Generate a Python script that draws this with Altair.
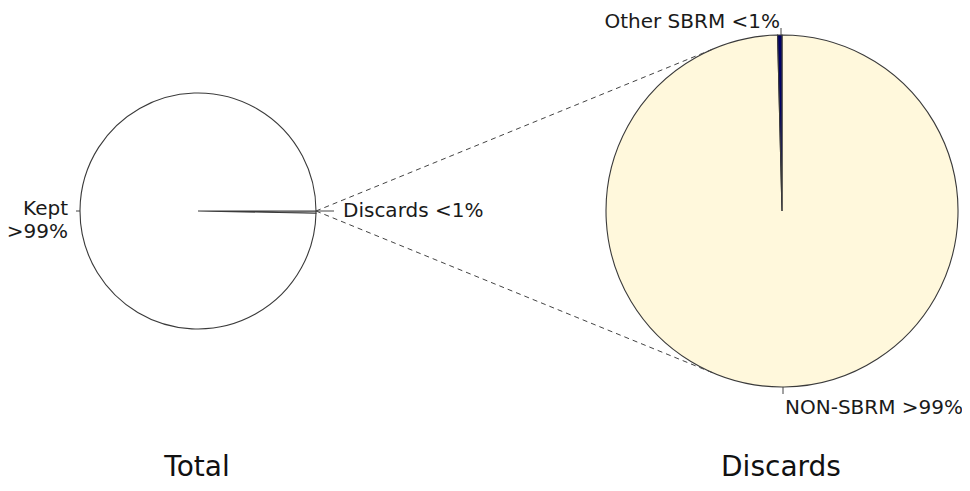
import math
import altair as alt
import pandas as pd

# ---------------- data ----------------
total_cats = ["Discards", "Kept"]
total_vals = [0.3, 99.7]
total_colors = ["#ffffff", "#ffffff"]

disc_cats = ["NON-SBRM", "Other SBRM"]
disc_vals = [99.6, 0.4]
disc_colors = ["#fff8dc", "#000066"]

titles = ["Total", "Discards"]
labels_right = ["Kept\n>99%", "Other SBRM <1%"]
labels_left = ["Discards <1%", "NON-SBRM >99%"]

# ---------------- layout (page pixels) ----------------
OFF = 8
W, H = 954, 475
LEFT = dict(cx=198, cy=211, r=118, start=math.pi / 2)
RIGHT = dict(cx=782, cy=211, r=176, start=0.0)
FONT = "DejaVu Sans"


def pie(vals, cats, colors, g):
    df = pd.DataFrame({"cat": cats, "value": vals, "idx": list(range(len(vals)))})
    return alt.Chart(df).mark_arc(
        x=g["cx"] - OFF, y=g["cy"] - OFF, radius=g["r"],
        stroke="#3a3a3a", strokeWidth=1.1,
    ).encode(
        theta=alt.Theta("value:Q", stack=True,
                        scale=alt.Scale(range=[g["start"], g["start"] + 2 * math.pi])),
        color=alt.Color("cat:N", scale=alt.Scale(domain=cats, range=colors), legend=None),
        order=alt.Order("idx:Q"),
    )


X = alt.Scale(domain=[0, W], range=[0, W], nice=False, zero=False)
Y = alt.Scale(domain=[H, 0], nice=False, zero=False)

# dashed tangent lines from the discards slice to the right pie
px, py = LEFT["cx"] + LEFT["r"], LEFT["cy"]
d = RIGHT["cx"] - px
t = math.asin(RIGHT["r"] / d)
L = math.sqrt(d * d - RIGHT["r"] ** 2)
dash_df = pd.DataFrame({
    "x": [px - OFF, px - OFF],
    "y": [py - OFF, py - OFF],
    "x2": [px + L * math.cos(t) - OFF, px + L * math.cos(t) - OFF],
    "y2": [py - L * math.sin(t) - OFF, py + L * math.sin(t) - OFF],
})
dashed = alt.Chart(dash_df).mark_rule(strokeDash=[5, 4], color="#444", strokeWidth=1).encode(
    x=alt.X("x:Q", scale=X, axis=None), y=alt.Y("y:Q", scale=Y, axis=None),
    x2="x2:Q", y2="y2:Q")

# label tick marks
tick_df = pd.DataFrame({
    "x": [LEFT["cx"] - LEFT["r"] - 4, LEFT["cx"] + LEFT["r"], RIGHT["cx"] - 1, RIGHT["cx"] + 1],
    "x2": [LEFT["cx"] - LEFT["r"], LEFT["cx"] + LEFT["r"] + 18, RIGHT["cx"] - 1, RIGHT["cx"] + 1],
    "y": [LEFT["cy"], LEFT["cy"], RIGHT["cy"] - RIGHT["r"] - 7, RIGHT["cy"] + RIGHT["r"]],
    "y2": [LEFT["cy"], LEFT["cy"], RIGHT["cy"] - RIGHT["r"], RIGHT["cy"] + RIGHT["r"] + 7],
})
tick_df[["x", "x2", "y", "y2"]] -= OFF
ticks = alt.Chart(tick_df).mark_rule(color="#444", strokeWidth=1).encode(
    x=alt.X("x:Q", scale=X, axis=None), y=alt.Y("y:Q", scale=Y, axis=None),
    x2="x2:Q", y2="y2:Q")

rl_df = pd.DataFrame({"text": labels_right, "x": [68 - OFF, 780 - OFF], "y": [215 - OFF, 28 - OFF]})
txt_right = alt.Chart(rl_df).mark_text(
    align="right", baseline="alphabetic", font=FONT, fontSize=20, color="#1a1a1a",
    lineBreak="\n", lineHeight=23,
).encode(x=alt.X("x:Q", scale=X, axis=None), y=alt.Y("y:Q", scale=Y, axis=None), text="text:N")

ll_df = pd.DataFrame({"text": labels_left, "x": [343 - OFF, 785 - OFF], "y": [217 - OFF, 414 - OFF]})
txt_left = alt.Chart(ll_df).mark_text(
    align="left", baseline="alphabetic", font=FONT, fontSize=20, color="#1a1a1a",
).encode(x=alt.X("x:Q", scale=X, axis=None), y=alt.Y("y:Q", scale=Y, axis=None), text="text:N")

t_df = pd.DataFrame({"text": titles, "x": [197 - OFF, 781 - OFF], "y": [H - 1, H - 1]})
txt_titles = alt.Chart(t_df).mark_text(
    align="center", baseline="bottom", font=FONT, fontSize=28, color="#111",
).encode(x=alt.X("x:Q", scale=X, axis=None), y=alt.Y("y:Q", scale=Y, axis=None), text="text:N")

chart = alt.layer(
    pie(total_vals, total_cats, total_colors, LEFT),
    pie(disc_vals, disc_cats, disc_colors, RIGHT),
    dashed, ticks, txt_right, txt_left, txt_titles,
).resolve_scale(theta="independent", color="independent").properties(
    width=W, height=H, padding=0, autosize="none", background="#ffffff",
).configure_view(stroke=None)

chart.save("out.html", embed_options={"renderer": "svg", "actions": False})
